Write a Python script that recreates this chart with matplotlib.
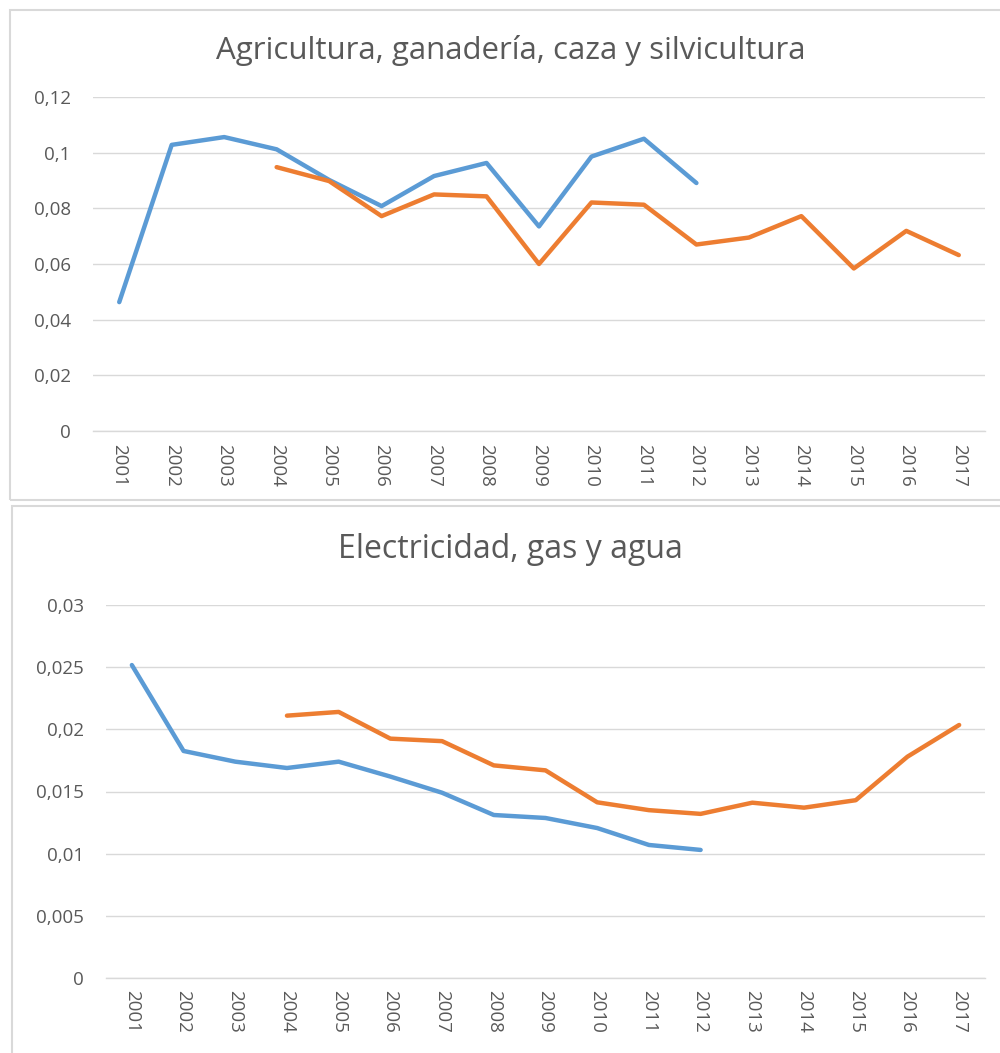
import numpy as np
import matplotlib
matplotlib.use('Agg')
from matplotlib import pyplot as plt
from matplotlib.patches import Rectangle
from matplotlib.ticker import MultipleLocator, FuncFormatter

years = list(range(2001, 2018))
years_blue = list(range(2001, 2013))
years_orange = list(range(2004, 2018))

# Agricultura, ganaderia, caza y silvicultura
agri_blue = [0.0463, 0.1028, 0.1056, 0.1012, 0.0902, 0.0808, 0.0916, 0.0963,
             0.0735, 0.0986, 0.1050, 0.0891]
agri_orange = [0.0948, 0.0898, 0.0772, 0.0850, 0.0843, 0.0600, 0.0821, 0.0813,
               0.0670, 0.0695, 0.0772, 0.0584, 0.0719, 0.0632]

# Electricidad, gas y agua
elec_blue = [0.02517, 0.01826, 0.01740, 0.01689, 0.01740, 0.01620, 0.01490,
             0.01311, 0.01287, 0.01206, 0.01070, 0.01030]
elec_orange = [0.02110, 0.02140, 0.01925, 0.01905, 0.01710, 0.01670, 0.01413,
               0.01350, 0.01320, 0.01410, 0.01370, 0.01430, 0.01780, 0.02035]

BLUE = '#5B9BD5'
ORANGE = '#ED7D31'
GRID = '#D9D9D9'
TXT = '#595959'
FONT = 'Open Sans'

W, H = 1000, 1053


def comma_fmt(v, pos):
    return ('%g' % round(v, 6)).replace('.', ',')


def draw_panel(fig, box, ax_box, title, title_xy, title_size, blue, orange, step, top):
    # box / ax_box in pixels: (x0, y0_top, x1, y1_bottom)
    x0, y0, x1, y1 = box
    fig.patches.append(Rectangle((x0 / W, 1 - y1 / H), (x1 - x0) / W, (y1 - y0) / H,
                                 transform=fig.transFigure, fill=False,
                                 edgecolor=GRID, linewidth=1.5))
    ax0, ay0, ax1, ay1 = ax_box
    ax = fig.add_axes([ax0 / W, 1 - ay1 / H, (ax1 - ax0) / W, (ay1 - ay0) / H])
    ax.plot(years_blue, blue, color=BLUE, linewidth=3.2, solid_capstyle='round')
    ax.plot(years_orange, orange, color=ORANGE, linewidth=3.2, solid_capstyle='round')
    ax.set_xlim(2000.5, 2017.5)
    ax.set_ylim(0, top)
    ax.yaxis.set_major_locator(MultipleLocator(step))
    ax.yaxis.set_major_formatter(FuncFormatter(comma_fmt))
    ax.set_xticks(years)
    ax.set_xticklabels([str(y) for y in years], rotation=-90, family=FONT,
                       fontsize=13.5, color=TXT)
    for lab in ax.get_yticklabels():
        lab.set_family(FONT)
        lab.set_fontsize(13.5)
        lab.set_color(TXT)
    ax.tick_params(axis='both', length=0)
    ax.tick_params(axis='y', pad=16)
    ax.tick_params(axis='x', pad=9)
    ax.grid(axis='y', color=GRID, linewidth=1)
    ax.set_axisbelow(True)
    for s in ['top', 'right', 'left']:
        ax.spines[s].set_visible(False)
    ax.spines['bottom'].set_color(GRID)
    ax.spines['bottom'].set_linewidth(1)
    fig.text(title_xy[0] / W, 1 - title_xy[1] / H, title, ha='center',
             va='center', family=FONT, fontsize=title_size, color=TXT)
    return ax


fig = plt.figure(figsize=(W / 100, H / 100), dpi=100)

draw_panel(fig, (10, 10, 1003, 500), (93, 97, 985, 431),
           'Agricultura, ganadería, caza y silvicultura', (511, 50), 22.5,
           agri_blue, agri_orange, 0.02, 0.12)

draw_panel(fig, (12, 506, 1003, 1056), (106, 605, 985, 978),
           'Electricidad, gas y agua', (510, 550), 23,
           elec_blue, elec_orange, 0.005, 0.03)

fig.savefig('out.png', dpi=100, facecolor='white')
